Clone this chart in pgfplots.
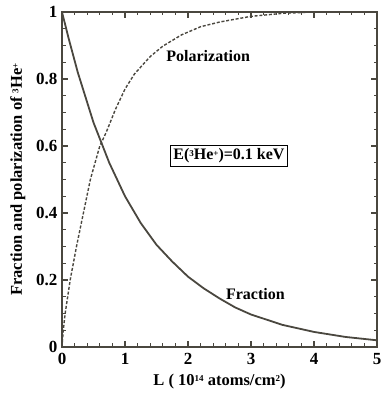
\documentclass[border=0pt]{standalone}
\usepackage{pgfplots}
\pgfplotsset{compat=1.18}
\usepackage{fontspec}
\setmainfont{Liberation Serif}
\definecolor{ink}{RGB}{74,71,63}
\newcommand{\supx}[1]{\raisebox{0.45ex}{\fontsize{9}{9}\selectfont #1}}
\begin{document}
\begin{tikzpicture}[x=1pt,y=1pt]
\useasboundingbox (0,0) rectangle (381,395);
\begin{axis}[
  at={(62pt,48pt)}, anchor=south west,
  scale only axis, width=315pt, height=335pt,
  xmin=0, xmax=5, ymin=0, ymax=1,
  xtick={0,1,2,3,4,5}, ytick={0,0.2,0.4,0.6,0.8,1},
  minor x tick num=4, minor y tick num=3,
  tick align=inside,
  major tick length=6pt, minor tick length=3.5pt,
  axis line style={ink, line width=1.8pt},
  every tick/.style={ink, line width=1.3pt},
  /pgf/number format/assume math mode=true,
  xticklabel={\fontsize{17}{17}\selectfont\bfseries\pgfmathprintnumber{\tick}},
  yticklabel={\fontsize{17}{17}\selectfont\bfseries\pgfmathprintnumber{\tick}},
  ticklabel style={text=black},
  xticklabel style={yshift=-3pt},
  yticklabel style={xshift=-1pt},
  xlabel={L ( 10\supx{14} atoms/cm\supx{2})},
  ylabel={Fraction and polarization of \supx{3}He\supx{+}},
  label style={font=\fontsize{16.5}{18}\selectfont\bfseries},
  xlabel style={yshift=-2pt},
  ylabel style={yshift=4pt},
  clip=true,
]
\addplot[ink, line width=1.8pt] coordinates {
(0,1) (0.1,0.925) (0.25,0.82) (0.5,0.67) (0.75,0.55) (1,0.45) (1.25,0.37)
(1.5,0.305) (1.75,0.255) (2,0.21) (2.25,0.175) (2.5,0.145) (2.75,0.118) (3,0.097)
(3.5,0.066) (4,0.045) (4.5,0.030) (5,0.02)
};
\addplot[ink, line width=1.4pt, dash pattern=on 3pt off 1.8pt] coordinates {
(0,0) (0.02,0.05) (0.05,0.1) (0.13,0.2) (0.23,0.3) (0.34,0.4) (0.45,0.5)
(0.6,0.6) (0.7,0.64) (0.85,0.71) (1.0,0.77) (1.15,0.815) (1.4,0.867)
(1.6,0.898) (1.9,0.932) (2.2,0.956) (2.5,0.97) (3.0,0.987) (3.5,0.996)
(4,1) (5,1)
};
\node[font=\fontsize{16}{18}\selectfont\bfseries] at (axis cs:2.32,0.869) {Polarization};
\node[font=\fontsize{16}{18}\selectfont\bfseries] at (axis cs:3.07,0.157) {Fraction};
\node[draw=black, line width=0.8pt, fill=white, inner sep=3pt, font=\fontsize{16}{18}\selectfont\bfseries] at (axis cs:2.65,0.57) {E(\supx{3}He\supx{+})=0.1 keV};
\end{axis}
\end{tikzpicture}
\end{document}
